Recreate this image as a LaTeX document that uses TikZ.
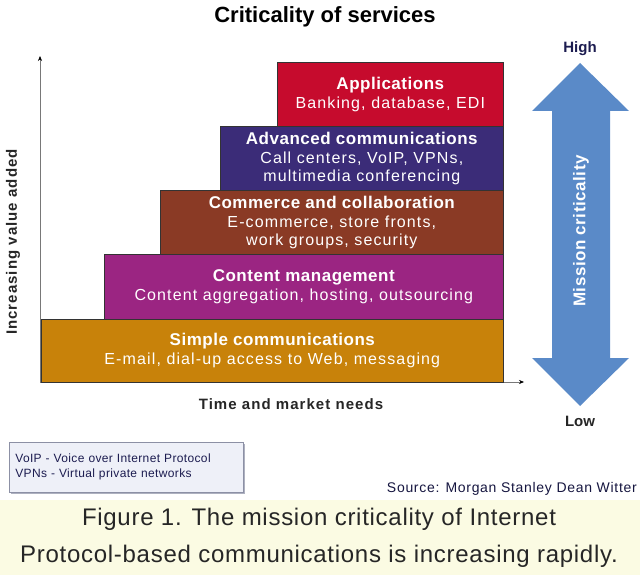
\documentclass[tikz,border=0pt]{standalone}
\usepackage{fontspec}
\setmainfont{Liberation Sans}
\newfontfamily\chartfont{Liberation Sans}[LetterSpace=7]
\newfontfamily\titlefont{Liberation Sans}[LetterSpace=3]
\newfontfamily\srcfont{Liberation Sans}[LetterSpace=5]
\newfontfamily\capfont{Liberation Sans}[LetterSpace=3]
\usetikzlibrary{arrows.meta}
\definecolor{appred}{RGB}{198,11,45}
\definecolor{advnavy}{RGB}{59,44,120}
\definecolor{combrown}{RGB}{138,58,37}
\definecolor{conmag}{RGB}{155,37,130}
\definecolor{simgold}{RGB}{200,130,10}
\definecolor{critblue}{RGB}{90,138,200}
\definecolor{capyellow}{RGB}{251,251,227}
\definecolor{legfill}{RGB}{238,240,248}
\definecolor{legdraw}{RGB}{140,144,165}
\definecolor{darknavy}{RGB}{28,28,80}
\definecolor{axisgray}{RGB}{120,120,120}
\newcommand{\lyrtitle}[1]{{\titlefont\bfseries\fontsize{17}{18}\selectfont #1}}
\begin{document}
\begin{tikzpicture}[x=1pt,y=-1pt,
  layer/.style={draw=black!80, line width=0.6pt, rectangle, anchor=north west,
    inner sep=0pt, text=white, align=center,
    font=\chartfont\fontsize{16}{17.5}\selectfont},
  axis/.style={draw=axisgray, line width=0.6pt, -{Stealth[length=5pt,width=4pt,black]}},
  lbl/.style={font=\chartfont\bfseries\fontsize{15}{17}\selectfont, text=black!85, inner sep=0pt}
]
\useasboundingbox (0,0) rectangle (640,575);
\fill[white] (0,0) rectangle (640,575);

% title
\node[font=\bfseries\fontsize{22}{24}\selectfont, anchor=base, inner sep=0pt] (title) at (325,23) {Criticality of services};

% axes
\coordinate (origin) at (40,382);
\coordinate (ytop) at (40,56);
\coordinate (xend) at (524,382);
\draw[axis] (origin) -- (ytop);
\draw[axis] (origin) -- (xend);

% layers
\node[layer, fill=simgold, minimum width=462pt, minimum height=63pt] (simple) at (41,319)
  {\lyrtitle{Simple communications}\\[1.5pt]
   E-mail, dial-up access to Web, messaging};
\node[layer, fill=conmag, minimum width=399pt, minimum height=65pt] (content) at (104,254)
  {\lyrtitle{Content management}\\[1.5pt]
   Content aggregation, hosting, outsourcing};
\node[layer, fill=combrown, minimum width=343pt, minimum height=64pt] (commerce) at (160,190)
  {\lyrtitle{Commerce and collaboration}\\[1.5pt]
   E-commerce, store fronts,\\ work groups, security};
\node[layer, fill=advnavy, minimum width=283pt, minimum height=64pt] (advanced) at (220,126)
  {\lyrtitle{Advanced communications}\\[1.5pt]
   Call centers, VoIP, VPNs,\\ multimedia conferencing};
\node[layer, fill=appred, minimum width=226pt, minimum height=64pt] (apps) at (277,62)
  {\lyrtitle{Applications}\\[1.5pt]
   Banking, database, EDI};

% axis labels
\node[lbl, rotate=90] (ylabel) at (13,242) {Increasing value added};
\node[lbl, anchor=base] (xlabel) at (291,409) {Time and market needs};

% mission criticality double arrow
\fill[critblue] (580,63) -- (629,111) -- (610,111) -- (610,358) -- (629,358)
  -- (580,406) -- (532,358) -- (552,358) -- (552,111) -- (532,111) -- cycle;
\node[font=\titlefont\bfseries\fontsize{17}{18}\selectfont, text=white, rotate=90, inner sep=0pt] (mission) at (581,231) {Mission criticality};
\node[font=\bfseries\fontsize{15}{16}\selectfont, text=darknavy, anchor=base, inner sep=0pt] (high) at (580,53) {High};
\node[font=\bfseries\fontsize{15}{16}\selectfont, text=black!85, anchor=base, inner sep=0pt] (low) at (580,426) {Low};

% legend
\fill[legdraw!70] (11,444) rectangle (245,494);
\node[draw=legdraw, fill=legfill, line width=0.6pt, anchor=north west, minimum width=234pt,
  minimum height=50pt, text width=222pt, inner xsep=6pt, inner ysep=0pt, align=left,
  text=darknavy, font=\capfont\fontsize{12}{15}\selectfont] (legend) at (9,442)
  {VoIP - Voice over Internet Protocol\\VPNs - Virtual private networks};

% source
\node[font=\srcfont\fontsize{14}{15}\selectfont, text=darknavy!80!black, anchor=base east, inner sep=0pt] (source) at (637,492) {Source: Morgan Stanley Dean Witter};

% caption
\fill[capyellow] (0,500) rectangle (640,575);
\node[font=\capfont\fontsize{24}{26}\selectfont, text=black!85, anchor=base, inner sep=0pt] (cap1) at (319,525) {Figure 1. The mission criticality of Internet};
\node[font=\capfont\fontsize{24}{26}\selectfont, text=black!85, anchor=base, inner sep=0pt] (cap2) at (319,562) {Protocol-based communications is increasing rapidly.};
\end{tikzpicture}
\end{document}
